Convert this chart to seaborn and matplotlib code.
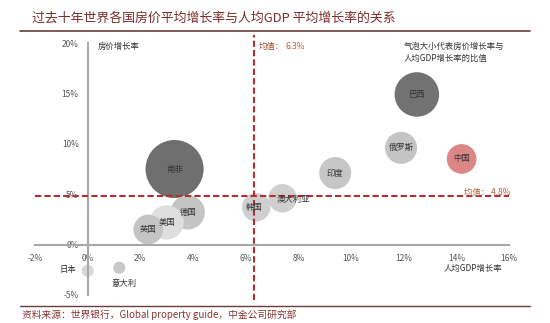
import matplotlib
matplotlib.use("Agg")
import matplotlib.pyplot as plt
import seaborn as sns
import pandas as pd
from matplotlib.lines import Line2D

sns.set_theme(style="white")
plt.rcParams['font.family'] = ['Noto Sans CJK SC', 'DejaVu Sans']

countries = ['南非', '巴西', '俄罗斯', '中国', '印度', '澳大利亚', '韩国', '德国', '美国', '英国', '日本', '意大利']
gdp_growth = [3.3, 12.5, 11.9, 14.2, 9.4, 7.4, 6.4, 3.8, 3.0, 2.3, 0.0, 1.2]
house_growth = [7.5, 14.9, 9.6, 8.5, 7.1, 4.6, 3.7, 3.2, 2.2, 1.5, -2.6, -2.3]
ratio = [2.35, 1.35, 0.7, 0.6, 0.7, 0.55, 0.55, 0.8, 0.8, 0.6, 0.1, 0.1]
mean_gdp = 6.3
mean_house = 4.8
x_ticks = [-2, 0, 2, 4, 6, 8, 10, 12, 14, 16]
y_ticks = [-5, 0, 5, 10, 15, 20]

colors = {'南非': '#6f6f6f', '巴西': '#727272', '俄罗斯': '#c4c4c4', '中国': '#dc8686',
          '印度': '#c6c6c6', '澳大利亚': '#cfcfcf', '韩国': '#cfcfcf', '德国': '#c4c4c4',
          '美国': '#dedede', '英国': '#c4c4c4', '日本': '#d8d8d8', '意大利': '#c8c8c8'}

df = pd.DataFrame({'country': countries, 'gdp': gdp_growth, 'house': house_growth, 'ratio': ratio})

fig = plt.figure(figsize=(5.5, 3.23), dpi=100)
ax = fig.add_axes([0.0636, 0.0712, 0.8619, 0.8204])

sns.scatterplot(data=df, x='gdp', y='house', hue='country', palette=colors,
                size='ratio', sizes=(0, 1748), size_norm=(0, 2.3),
                legend=False, edgecolor='none', alpha=1.0, ax=ax, zorder=2)

ax.set_xlim(-2, 16)
ax.set_ylim(-5.5, 20.8)
ax.set_xticks(x_ticks)
ax.set_yticks(y_ticks)
ax.set_xticklabels([f'{t}%' for t in x_ticks])
ax.set_yticklabels([f'{t}%' for t in y_ticks])
ax.set_xlabel('')
ax.set_ylabel('')

for s in ['top', 'right']:
    ax.spines[s].set_visible(False)
ax.spines['left'].set_position(('data', 0))
ax.spines['bottom'].set_position(('data', 0))
ax.spines['left'].set_bounds(-5, 20)
ax.spines['bottom'].set_bounds(-2, 16)
for s in ['left', 'bottom']:
    ax.spines[s].set_color('#a8a8a8')
    ax.spines[s].set_linewidth(1.5)
ax.tick_params(axis='both', labelsize=6, colors='#555555', length=3, width=1, direction='out')
ax.tick_params(axis='both', color='#a8a8a8')

line_col = '#b22f2f'
ax.axvline(mean_gdp, color=line_col, linestyle=(0, (3, 1.5)), linewidth=1.5, zorder=3)
ax.axhline(mean_house, color=line_col, linestyle=(0, (3, 1.5)), linewidth=1.5, zorder=3)

fs = 6
for c, xv, yv in zip(countries, gdp_growth, house_growth):
    if c == '日本':
        ax.text(xv - 0.45, yv + 0.1, c, fontsize=fs, ha='right', va='center', color='#333333', zorder=4)
    elif c == '意大利':
        ax.text(xv + 0.2, yv - 1.6, c, fontsize=fs, ha='center', va='center', color='#333333', zorder=4)
    elif c == '澳大利亚':
        ax.text(xv + 0.4, yv - 0.1, c, fontsize=fs, ha='center', va='center', color='#333333', zorder=4)
    elif c == '韩国':
        ax.text(xv - 0.1, yv, c, fontsize=fs, ha='center', va='center', color='#333333', zorder=4)
    else:
        ax.text(xv, yv, c, fontsize=fs, ha='center', va='center', color='#333333', zorder=4)

ax.text(0.4, 19.7, '房价增长率', fontsize=fs, color='#333333', va='center')
ax.text(6.5, 19.7, '均值：', fontsize=fs, color='#9a4a2a', va='center')
ax.text(7.5, 19.7, '6.3%', fontsize=fs, color='#b0603a', va='center')
ax.text(12.0, 19.1, '气泡大小代表房价增长率与\n人均GDP增长率的比值', fontsize=fs, color='#333333',
        va='center', linespacing=1.4)
ax.text(14.3, 5.2, '均值： 4.8%', fontsize=fs, color='#b0603a', va='center')
ax.text(13.5, -2.4, '人均GDP增长率', fontsize=fs, color='#333333', va='center')

title_col = '#7a2e2e'
fig.text(0.058, 0.945, '过去十年世界各国房价平均增长率与人均GDP 平均增长率的关系', fontsize=9.3,
         color=title_col, va='center', ha='left', style='italic')
fig.add_artist(Line2D([0.036, 0.964], [0.904, 0.904], color='#6a3d3d', linewidth=1.2))
fig.add_artist(Line2D([0.036, 0.964], [0.053, 0.053], color='#6a3d3d', linewidth=1.0))
fig.text(0.04, 0.026, '资料来源：世界银行，Global property guide，中金公司研究部', fontsize=7,
         color='#8b3535', va='center', ha='left', style='italic')

fig.savefig('out.png', dpi=100)
